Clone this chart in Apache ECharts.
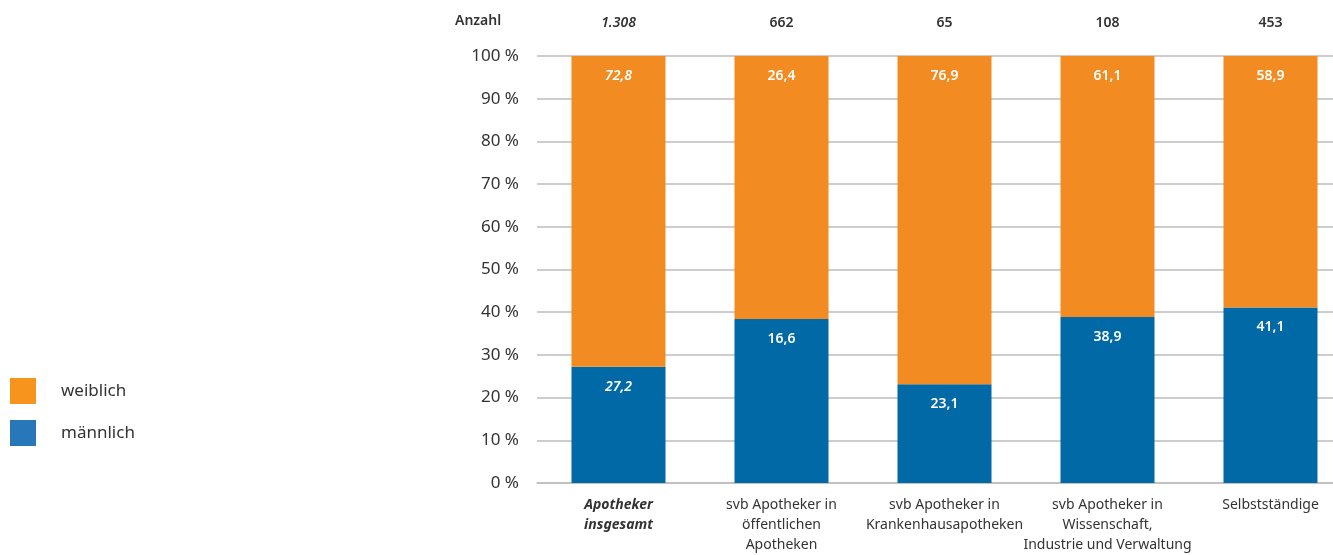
<!DOCTYPE html>
<html><head><meta charset="utf-8">
<script src="https://cdn.jsdelivr.net/npm/echarts@6/dist/echarts.min.js"></script>
<style>html,body{margin:0;padding:0;background:#fff;overflow:hidden;width:1333px;height:555px}#c{width:1352px;height:555px}</style>
</head><body><div id="c"></div>
<script>
const categories = ['Apotheker\ninsgesamt', 'svb Apotheker in\nöffentlichen\nApotheken', 'svb Apotheker in\nKrankenhausapotheken', 'svb Apotheker in\nWissenschaft,\nIndustrie und Verwaltung', 'Selbstständige'];
const counts = ['1.308', '662', '65', '108', '453'];
const maleValues = [27.2, 38.4, 23.1, 38.9, 41.1];
const femaleValues = [72.8, 61.6, 76.9, 61.1, 58.9];
const maleLabels = ['27,2', '16,6', '23,1', '38,9', '41,1'];
const femaleLabels = ['72,8', '26,4', '76,9', '61,1', '58,9'];
const yTicks = [0, 10, 20, 30, 40, 50, 60, 70, 80, 90, 100];

const FONT = 'Noto Sans';
const chart = echarts.init(document.getElementById('c'));
function lbl(arr) {
  return {
    show: true, position: 'insideTop', distance: 13,
    formatter: p => p.dataIndex === 0 ? '{i|' + arr[p.dataIndex] + '}' : '{n|' + arr[p.dataIndex] + '}',
    rich: {
      i: {color: '#fff', fontSize: 14, fontWeight: 600, fontStyle: 'italic', fontFamily: FONT},
      n: {color: '#fff', fontSize: 14, fontWeight: 600, fontFamily: FONT}
    }
  };
}
chart.setOption({
  animation: false,
  textStyle: {fontFamily: FONT},
  grid: {left: 537, top: 56, right: 0, bottom: 72, containLabel: false},
  legend: {
    orient: 'vertical', left: 10, top: 378, padding: 0, itemWidth: 26, itemHeight: 26, itemGap: 16,
    icon: 'rect',
    data: [{name: 'weiblich', itemStyle: {color: '#F7941D'}}, {name: 'männlich', itemStyle: {color: '#2878B9'}}],
    textStyle: {fontSize: 17, color: '#333', padding: [3, 0, 0, 20], fontFamily: FONT}
  },
  graphic: [{
    type: 'text', left: 455, top: 14,
    style: {text: 'Anzahl', fontSize: 14, fontWeight: 600, fill: '#333', fontFamily: FONT}
  }],
  xAxis: [{
    type: 'category', data: categories, position: 'bottom',
    axisLine: {lineStyle: {color: '#bdbdbd', width: 1.5}}, axisTick: {show: false},
    axisLabel: {
      margin: 12, fontSize: 14, lineHeight: 20, color: '#333', interval: 0,
      formatter: (v, i) => i === 0 ? v.split('\n').map(s => '{b|' + s + '}').join('\n') : v,
      rich: {b: {fontSize: 14, lineHeight: 20, fontWeight: 700, fontStyle: 'italic', color: '#333', fontFamily: FONT}}
    }
  }, {
    type: 'category', data: counts, position: 'top',
    axisLine: {show: false}, axisTick: {show: false},
    axisLabel: {
      margin: 26, fontSize: 14, fontWeight: 600, color: '#333', interval: 0,
      formatter: (v, i) => i === 0 ? '{i|' + v + '}' : v,
      rich: {i: {fontSize: 14, fontWeight: 600, fontStyle: 'italic', color: '#333', fontFamily: FONT}}
    }
  }],
  yAxis: {
    type: 'value', min: 0, max: 100, interval: 10,
    axisLine: {show: false}, axisTick: {show: false},
    splitLine: {lineStyle: {color: '#bdbdbd', width: 1.5}},
    axisLabel: {margin: 18, fontSize: 17, color: '#333', formatter: v => yTicks.includes(v) ? v + ' %' : ''}
  },
  series: [{
    name: 'männlich', type: 'bar', stack: 's', barWidth: 94, data: maleValues,
    itemStyle: {color: '#0069A6'}, label: lbl(maleLabels)
  }, {
    name: 'weiblich', type: 'bar', stack: 's', barWidth: 94, data: femaleValues,
    itemStyle: {color: '#F28C22'}, label: lbl(femaleLabels)
  }]
});
</script></body></html>
